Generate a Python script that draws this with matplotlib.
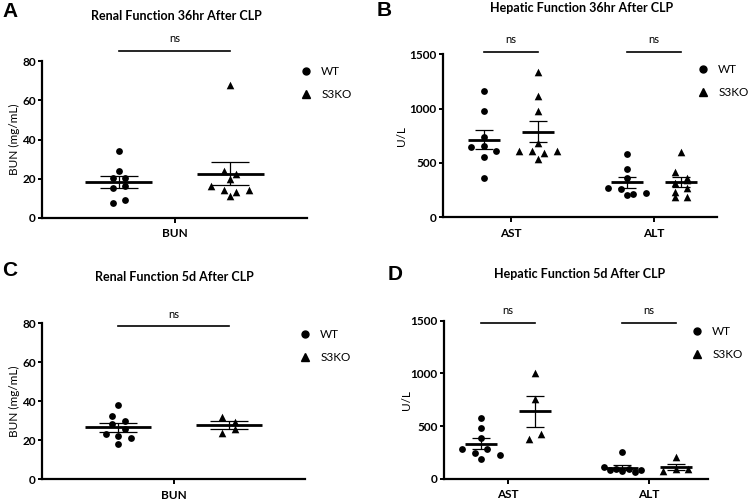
import numpy as np
import matplotlib
matplotlib.use('Agg')
import matplotlib.pyplot as plt
from matplotlib.lines import Line2D

plt.rcParams['font.family'] = ['Lato', 'DejaVu Sans']

# values (list order = left-to-right order inside a row)
renal_36h_wt = [34.1, 24.0, 20.1, 20.1, 15.0, 16.2, 7.4, 9.1]
renal_36h_ko = [68.0, 24.0, 22.2, 19.8, 16.2, 14.2, 13.0, 14.2, 11.1]
ast_36h_wt = [1165, 978, 742, 644, 656, 613, 552, 359]
ast_36h_ko = [1340, 1119, 981, 681, 613, 613, 590, 613, 534]
alt_36h_wt = [582, 441, 364, 273, 261, 214, 227, 205]
alt_36h_ko = [604, 414, 359, 313, 343, 236, 267, 184, 184]
renal_5d_wt = [38.0, 32.4, 30.0, 28.2, 25.7, 23.2, 22.2, 21.0, 18.1]
renal_5d_ko = [32.0, 29.5, 23.8, 25.7]
ast_5d_wt = [579, 484, 389, 279, 247, 279, 225, 187]
ast_5d_ko = [1001, 753, 380, 427]
alt_5d_wt = [250, 115, 95, 90, 85, 80, 75, 60]
alt_5d_ko = [203, 76, 89, 89]

groups = ['WT', 'S3KO']
renal_cats = ['BUN']
hepatic_cats = ['AST', 'ALT']

W, H = 750, 500
fig = plt.figure(figsize=(7.5, 5), dpi=100)


def rect(l, r, t, b):
    return [l / W, 1 - b / H, (r - l) / W, (b - t) / H]


def ppu(ax):
    a = ax.transData.transform((0, 0))
    b = ax.transData.transform((1, 1))
    return b[0] - a[0], b[1] - a[1]


def swarm(ax, vals, center, row_px=6.9, step_px=12.5, max_row=4):
    # prism-like scatter: points close in value share a row, centred
    px, py = ppu(ax)
    order = sorted(range(len(vals)), key=lambda i: -vals[i])
    rows, cur, top = [], [order[0]], vals[order[0]]
    for i in order[1:]:
        if (top - vals[i]) * py < row_px and len(cur) < max_row:
            cur.append(i)
        else:
            rows.append(cur)
            cur, top = [i], vals[i]
    rows.append(cur)
    x = np.zeros(len(vals))
    for r in rows:
        r = sorted(r)
        for k, i in enumerate(r):
            x[i] = center + (k - (len(r) - 1) / 2) * step_px / px
    return x


def panel(box, xlim, ymax, yticks, ylabel, cats, wt, ko, off, bracket_y,
          ylab_x, leg_xy):
    ax = fig.add_axes(rect(*box))
    ax.set_xlim(*xlim)
    ax.set_ylim(0, ymax)
    for s in ['top', 'right']:
        ax.spines[s].set_visible(False)
    for s in ['left', 'bottom']:
        ax.spines[s].set_linewidth(1.6)
    ax.set_yticks(yticks)
    ax.set_xticks(range(len(cats)))
    ax.set_xticklabels(cats, fontweight='bold', fontsize=8.5)
    ax.tick_params(axis='y', length=3, width=1.4, pad=1.5, labelsize=8.5)
    ax.tick_params(axis='x', length=3.5, width=1.4, pad=4)
    for lab in ax.get_yticklabels():
        lab.set_fontweight('bold')
    ax.set_ylabel(ylabel, fontsize=8.5)
    ax.yaxis.set_label_coords(ylab_x, 0.5)
    ax.yaxis.label.set_va('center')

    px, py = ppu(ax)
    gap_px = 2 * off * px
    mean_hw = 0.3 * gap_px / px
    cap_pt = 0.17 * gap_px * 0.72
    for ci in range(len(cats)):
        for gi, (vals, mk, ms) in enumerate([(wt[ci], 'o', 24), (ko[ci], '^', 30)]):
            c = ci + (-off if gi == 0 else off)
            xs = swarm(ax, vals, c)
            ax.scatter(xs, vals, marker=mk, s=ms, color='black', linewidths=0,
                       zorder=3, clip_on=False)
            m = np.mean(vals)
            se = np.std(vals, ddof=1) / np.sqrt(len(vals))
            ax.plot([c - mean_hw, c + mean_hw], [m, m], color='black', lw=2.0,
                    solid_capstyle='butt', zorder=4)
            ax.errorbar(c, m, yerr=se, fmt='none', ecolor='black',
                        elinewidth=0.9, capsize=cap_pt, capthick=0.9, zorder=4)
        ax.plot([ci - off, ci + off], [bracket_y, bracket_y], color='black',
                lw=1.2, clip_on=False)
        ax.annotate('ns', (ci, bracket_y), xytext=(0, 6), textcoords='offset points',
                    ha='center', va='baseline', fontsize=8, annotation_clip=False)

    handles = [Line2D([], [], marker='o', ls='', color='black', ms=5),
               Line2D([], [], marker='^', ls='', color='black', ms=5.5)]
    ax.legend(handles, groups, loc='upper left',
              bbox_to_anchor=(leg_xy[0] / W, 1 - leg_xy[1] / H),
              bbox_transform=fig.transFigure, frameon=False, fontsize=8.5,
              handlelength=1.0, handletextpad=0.8, labelspacing=1.0,
              borderpad=0, borderaxespad=0)
    return ax


# A
panel((42, 307, 61.3, 217.7), (-1, 1), 80, [0, 20, 40, 60, 80], 'BUN (mg/mL)',
      renal_cats, [renal_36h_wt], [renal_36h_ko], 0.42, 85.5, -0.102, (300, 66))
# B
panel((443, 717, 54.3, 217.3), (-0.476, 1.441), 1500, [0, 500, 1000, 1500], 'U/L',
      hepatic_cats, [ast_36h_wt, alt_36h_wt], [ast_36h_ko, alt_36h_ko], 0.19, 1524,
      -0.151, (697, 64))
# C
panel((42, 305, 323, 479.3), (-1, 1), 80, [0, 20, 40, 60, 80], 'BUN (mg/mL)',
      renal_cats, [renal_5d_wt], [renal_5d_ko], 0.42, 78.5, -0.103, (299, 329))
# D
panel((444, 708, 320.7, 478.7), (-0.454, 1.418), 1500, [0, 500, 1000, 1500], 'U/L',
      hepatic_cats, [ast_5d_wt, alt_5d_wt], [ast_5d_ko, alt_5d_ko], 0.19, 1481,
      -0.141, (691, 326))

titles = [('Renal Function 36hr After CLP', 176.7, 15.7),
          ('Hepatic Function 36hr After CLP', 582, 8.3),
          ('Renal Function 5d After CLP', 174.7, 277.3),
          ('Hepatic Function 5d After CLP', 579.7, 274)]
for t, x, y in titles:
    fig.text(x / W, 1 - y / H, t, ha='center', va='center', fontsize=9,
             fontweight='bold')

letters = [('A', 2.7, 11.2), ('B', 376.7, 11), ('C', 1.7, 270.5), ('D', 387.7, 274)]
for t, x, y in letters:
    fig.text(x / W, 1 - y / H, t, ha='left', va='center', fontsize=15,
             fontweight='bold', family='Liberation Sans')

fig.savefig('out.png', dpi=100)
